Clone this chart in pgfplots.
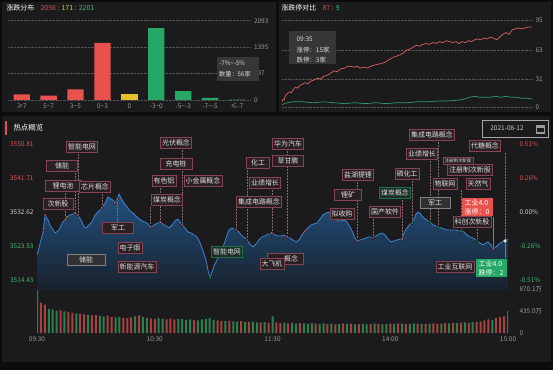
\documentclass[border=0pt]{standalone}
\usepackage{pgfplots}
\pgfplotsset{compat=1.18}
\usepackage{pgfplotstable}
\usepackage{fontspec}
\setmainfont{Noto Sans CJK SC}

\definecolor{bgblack}{HTML}{0C0C0C}
\definecolor{panel}{HTML}{1B1B1D}
\definecolor{tickgray}{HTML}{9A9A9A}
\definecolor{gridgray}{HTML}{555555}
\definecolor{barred}{HTML}{E8514E}
\definecolor{baryellow}{HTML}{E5C02B}
\definecolor{bargreen}{HTML}{25A766}
\definecolor{lred}{HTML}{D9625C}
\definecolor{lgreen}{HTML}{2E9C72}
\definecolor{tred}{HTML}{E0504D}
\definecolor{tgreen}{HTML}{3DBA6E}
\definecolor{tyellow}{HTML}{E6C23A}
\definecolor{twhite}{HTML}{D0D0D0}
\definecolor{lineblue}{HTML}{3E82D4}
\definecolor{areatop}{HTML}{22507E}
\definecolor{areabot}{HTML}{18212C}
\definecolor{vred}{HTML}{A9423F}
\definecolor{vgreen}{HTML}{2F7F4E}
\definecolor{lfill}{HTML}{2A2023}
\definecolor{lborder}{HTML}{874350}
\definecolor{ltext}{HTML}{DDDDDD}
\definecolor{dotpink}{HTML}{E07D93}
\definecolor{tipbg}{HTML}{38383A}
\definecolor{conn}{HTML}{8A6A72}

\pgfplotstableread{
t p
0 3521.18
1.0 3523.05
2.0 3525.19
3.1 3527.34
4.1 3531.89
5.6 3530.55
6.6 3529.21
8.2 3527.87
9.2 3527.07
10.7 3527.60
11.7 3528.41
13.2 3530.01
14.3 3530.55
15.3 3531.35
16.8 3531.89
18.3 3532.15
19.4 3532.42
20.9 3531.89
22.4 3530.55
24.0 3528.67
25.0 3528.41
26.5 3529.21
28.0 3530.01
29.6 3531.89
31.1 3532.69
33.1 3533.76
34.7 3535.10
36.2 3536.70
37.7 3536.17
38.7 3535.90
39.7 3535.10
40.8 3536.17
41.8 3537.51
42.8 3536.44
44.3 3535.10
45.9 3534.03
47.4 3532.96
48.9 3532.42
50.4 3531.62
52.0 3530.82
53.5 3530.28
55.0 3530.01
56.6 3529.48
57.6 3528.67
59.1 3528.94
60.6 3529.48
62.7 3530.01
64.2 3529.48
65.7 3528.94
67.3 3528.41
68.8 3529.21
70.3 3530.28
71.8 3530.82
72.9 3530.01
73.9 3529.21
75.4 3528.41
76.9 3527.34
78.5 3527.07
80.0 3526.53
81.5 3526.00
83.1 3524.39
84.6 3522.25
86.1 3519.84
87.1 3517.16
88.2 3515.02
89.2 3516.63
90.2 3518.24
91.7 3519.84
93.2 3521.98
94.8 3523.32
96.3 3525.73
97.8 3527.87
99.4 3528.41
100.4 3528.14
101.4 3527.87
102.9 3527.34
104.5 3526.27
106.0 3525.73
107.0 3525.19
108.5 3524.12
110.1 3523.32
111.6 3524.12
113.1 3525.19
114.6 3526.00
116.2 3526.27
117.7 3526.80
118.7 3526.80
119.7 3527.07
121.3 3526.53
122.8 3526.27
124.3 3526.27
125.9 3526.53
127.4 3526.00
128.9 3525.73
130.4 3525.19
132.0 3524.66
133.5 3525.19
135.0 3526.53
136.6 3527.60
138.1 3528.41
139.6 3529.21
141.1 3529.48
142.7 3529.74
144.2 3530.82
145.7 3531.89
147.3 3532.42
148.8 3532.69
150.3 3531.89
151.8 3531.08
153.4 3530.28
154.9 3530.28
156.4 3530.55
158.0 3530.01
159.5 3528.67
161.0 3527.07
162.0 3525.73
163.1 3524.93
164.6 3525.19
166.1 3525.46
167.6 3525.73
169.2 3526.00
170.2 3526.00
171.2 3525.73
172.7 3526.27
174.3 3526.80
175.8 3527.07
177.3 3526.53
178.9 3525.46
180.4 3524.66
181.9 3524.93
183.4 3525.19
185.0 3525.46
186.0 3525.46
187.0 3527.07
188.5 3528.41
190.1 3529.48
191.1 3529.74
192.1 3530.82
193.1 3532.15
194.1 3532.69
195.2 3532.42
196.2 3531.62
197.7 3530.82
199.2 3530.28
200.3 3530.01
201.8 3529.21
203.3 3528.94
204.3 3528.67
205.9 3528.41
207.4 3528.14
208.9 3527.87
210.4 3527.87
212.0 3527.87
213.5 3527.87
215.0 3527.60
216.0 3527.60
217.6 3527.34
219.1 3526.53
220.6 3526.00
222.2 3525.73
224.2 3524.93
225.7 3524.39
227.3 3523.86
228.8 3524.39
229.8 3524.66
231.3 3523.86
232.4 3522.79
233.9 3523.32
235.4 3524.12
236.9 3524.66
238.5 3524.93
240.0 3525.46
}\pricedata

\pgfplotstableread{
t v
2 600
4 560
12 450
16 420
18 400
22 380
24 370
28 350
30 355
36 345
38 320
44 300
46 295
48 310
52 350
58 290
60 280
66 270
68 290
70 265
80 255
92 250
94 240
98 245
104 235
108 215
114 205
118 200
122 210
124 195
128 190
134 195
142 185
148 175
152 170
156 190
160 185
164 175
170 175
174 180
180 185
184 190
188 175
194 185
198 175
202 190
204 180
208 195
212 200
216 205
220 200
224 220
226 230
228 250
230 270
234 300
236 320
238 330
}\volred

\pgfplotstableread{
t v
0 860
6 470
8 460
10 440
14 430
20 390
26 360
32 340
34 330
40 310
42 320
50 330
54 320
56 300
62 300
64 285
72 280
74 275
76 260
78 270
82 250
84 270
86 280
88 300
90 260
96 235
100 230
102 225
106 220
110 225
112 210
116 215
120 330
126 205
130 200
132 185
136 190
138 180
140 195
144 180
146 190
150 185
154 180
158 175
162 170
166 180
168 170
172 185
176 170
178 175
182 180
186 185
190 180
192 190
196 180
200 185
206 185
210 190
214 195
218 210
222 215
232 260
240 440
}\volgreen

\pgfplotstableread{
t n
0 6
1 9
2 8
3 12
5 15
7 17
9 16
11 20
13 22
15 21
17 24
19 25
22 27
25 26
28 29
31 30
34 32
37 31
40 34
43 35
46 37
50 40
53 39
56 42
60 43
63 45
66 45
69 44
72 45
75 43
78 44
82 43
85 45
88 46
91 47
95 48
98 49
101 51
104 53
107 55
110 56
114 58
117 60
120 63
123 64
126 66
129 68
132 67
135 69
138 70
141 69
145 71
148 70
151 72
154 71
158 73
161 72
164 71
167 72
170 70
173 72
176 71
179 73
182 72
185 74
188 75
191 74
194 76
197 75
200 77
203 76
206 74
209 77
212 80
215 82
218 80
221 85
224 86
227 87
230 86
233 87
236 88
240 88
}\uptable

\pgfplotstableread{
t n
0 3
5 5
10 6
20 6
30 5
40 6
50 5
60 4
70 5
80 4
90 5
100 4
110 5
120 5
130 6
140 6
150 7
160 7
170 8
175 9
180 11
185 12
190 11
200 11
205 12
210 11
215 12
220 11
225 11
230 10
235 10
240 9
}\downtable

\pgfplotsset{
  myax/.style={scale only axis, anchor=south west,
    axis line style={draw=none}, major tick length=0pt,
    tick label style={font=\fontsize{6.5}{7}\selectfont, text=tickgray},
    /pgf/number format/assume math mode=true},
}
\tikzset{
  lbl/.style={draw=lborder, fill=lfill, text=ltext, inner sep=1.6bp, line width=0.6bp,
    font=\fontsize{7}{7}\selectfont, minimum height=11bp},
  lblg/.style={lbl, draw=bargreen!70!black, fill=bargreen!12!panel},
  lblw/.style={lbl, draw=gray, fill=gray!22!panel},
  redbox/.style={fill=barred, text=white, inner sep=1.8bp, align=left,
    font=\fontsize{7}{9}\selectfont, minimum width=31bp},
  greenbox/.style={fill=bargreen, text=white, inner sep=1.8bp, align=left,
    font=\fontsize{7}{9}\selectfont, minimum width=31bp},
}
\newcommand{\conn}[3]{\addplot[conn, densely dotted, line width=0.5pt] coordinates {(#1,#2) (#1,#3)};}

\begin{document}
\begin{tikzpicture}[x=1bp, y=1bp, font=\fontsize{7}{8}\selectfont]
\useasboundingbox (0,0) rectangle (553,370);
\fill[bgblack] (0,0) rectangle (553,370);
\fill[panel] (2,258) rectangle (276,368);
\fill[panel] (279,258) rectangle (551,368);
\fill[panel] (2,8) rectangle (551,254);

% ---------- top-left: distribution ----------
\begin{axis}[myax, at={(8.25bp,270bp)}, width=242.25bp, height=79.3bp,
  xmin=-0.5, xmax=8.5, ymin=0, ymax=2093,
  ytick={0,697.67,1395.33,2093}, yticklabels={0,697,1395,2093},
  yticklabel pos=right, ymajorgrids, grid style={densely dotted, gridgray, line width=0.5pt},
  xtick={0,...,8},
  xticklabels={≥7,5\textasciitilde7,3\textasciitilde5,0\textasciitilde3,0,-3\textasciitilde0,-5\textasciitilde-3,-7\textasciitilde-5,≤-7}]
\addplot[ybar, bar width=16.3bp, bar shift=0pt, fill=barred, draw=none] coordinates {(0,150) (1,115) (2,283) (3,1508)};
\addplot[ybar, bar width=16.3bp, bar shift=0pt, fill=baryellow, draw=none] coordinates {(4,171)};
\addplot[ybar, bar width=16.3bp, bar shift=0pt, fill=bargreen, draw=none] coordinates {(5,1900) (6,235) (7,56) (8,10)};
\end{axis}
\node[anchor=west, text=white] at (3,362) {涨跌分布};
\node[anchor=west, font=\fontsize{7}{8}\selectfont] at (37,362) {\textcolor{tred}{2056} \textcolor{tyellow}{: 171 :} \textcolor{tgreen}{2201}};
\fill[tipbg, opacity=0.95] (217,289) rectangle (259,313);
\node[anchor=west, text=ltext, font=\fontsize{6.2}{7}\selectfont, inner sep=1bp] at (218,307) {-7\%\textasciitilde-5\%};
\node[anchor=west, text=ltext, font=\fontsize{6.2}{7}\selectfont, inner sep=1bp] at (218,296) {数量：56家};

% ---------- top-right: limit up/down ----------
\begin{axis}[myax, at={(282bp,262.7bp)}, width=250bp, height=86.6bp,
  xmin=0, xmax=240, ymin=0, ymax=95, xtick=\empty,
  ytick={0,31,63,95}, yticklabel pos=right,
  ymajorgrids, grid style={densely dotted, gridgray, line width=0.5pt}]
\addplot[lred, line width=0.7pt] table {\uptable};
\addplot[lgreen, line width=0.7pt] table {\downtable};
\end{axis}
\node[anchor=west, text=white] at (278,362) {涨跌停对比};
\node[anchor=west] at (319,362) {\textcolor{tred}{87} \textcolor{tyellow}{:} \textcolor{tgreen}{9}};
\fill[tipbg, opacity=0.95] (289,306) rectangle (336,339);
\node[anchor=west, text=ltext, font=\fontsize{6.5}{7}\selectfont] at (293,331) {09:35};
\node[anchor=west, text=ltext, font=\fontsize{6.5}{7}\selectfont] at (293,320) {涨停：15家};
\node[anchor=west, text=ltext, font=\fontsize{6.5}{7}\selectfont] at (293,310) {跌停：3家};

% ---------- bottom: hot spots ----------
\fill[barred] (5,235) rectangle (7,249);
\node[anchor=west, text=white, font=\fontsize{7.5}{8}\selectfont] at (10,242) {热点概览};
\draw[gray!70, fill=panel, line width=0.5pt] (482,233) rectangle (548,250);
\node[text=twhite, font=\fontsize{6.5}{7}\selectfont] at (507,241.5) {2021-08-12};
\fill[tickgray] (536,236.5) rectangle (545,245.5);
\fill[panel] (537.2,237.6) rectangle (543.8,242.5);

% volume
\begin{axis}[myax, at={(37bp,37bp)}, width=471bp, height=44bp,
  xmin=0, xmax=240, ymin=0, ymax=870.1,
  xtick={0,60,120,180,240}, xticklabels={09:30,10:30,11:30,14:00,15:00},
  ytick={0,435,870.1}, yticklabels={0,435.0万,870.1万},
  yticklabel pos=right, yticklabel style={anchor=west, xshift=8bp}]
\addplot[ybar, bar width=2bp, bar shift=0pt, fill=vred, draw=none] table {\volred};
\addplot[ybar, bar width=2bp, bar shift=0pt, fill=vgreen, draw=none] table {\volgreen};
\end{axis}

% price
\begin{axis}[myax, at={(37bp,80bp)}, width=471bp, height=170bp,
  xmin=0, xmax=240, ymin=3511.81, ymax=3557.31, xtick=\empty,
  ytick={3514.43,3523.53,3532.62,3541.71,3550.81},
  yticklabels={\textcolor{tgreen}{3514.43},\textcolor{tgreen}{3523.53},\textcolor{twhite}{3532.62},\textcolor{tred}{3541.71},\textcolor{tred}{3550.81}}]
\addplot[draw=none, top color=areatop, bottom color=areabot] table {\pricedata} |- (axis cs:0,3511.81) -- cycle;
\conn{14.3}{3537.78}{3530.55}
\conn{19.4}{3543.13}{3532.42}
\conn{20.9}{3548.21}{3531.89}
\conn{33.1}{3537.51}{3533.76}
\conn{40.8}{3536.17}{3530.01}
\conn{57.6}{3534.03}{3528.67}
\conn{62.7}{3539.11}{3530.01}
\conn{73.9}{3549.29}{3529.21}
\conn{101.4}{3533.49}{3527.87}
\conn{107.0}{3543.93}{3525.19}
\conn{119.7}{3538.58}{3527.07}
\conn{127.4}{3549.02}{3526.00}
\conn{163.1}{3540.72}{3524.93}
\conn{171.2}{3530.82}{3525.73}
\conn{186.0}{3535.90}{3525.46}
\conn{191.1}{3540.99}{3529.74}
\conn{200.3}{3546.34}{3530.01}
\conn{204.3}{3551.42}{3528.67}
\conn{216.0}{3538.58}{3527.60}
\conn{224.2}{3528.14}{3524.93}
\conn{238.5}{3548.48}{3524.93}
\addplot[barred, line width=0.7pt] coordinates {(232.4,3531.35) (232.4,3522.79)};
\addplot[bargreen, line width=0.7pt] coordinates {(238.5,3524.93) (238.5,3520.38)};
\addplot[lineblue, line width=0.8pt] table {\pricedata};
\addplot[only marks, mark=*, mark size=1.5bp, mark options={fill=dotpink, draw=none}] coordinates {(3.1,3527.34) (4.1,3531.89) (14.3,3530.55) (19.4,3532.42) (20.9,3531.89) (33.1,3533.76) (39.7,3535.10) (40.8,3536.17) (57.6,3528.67) (62.7,3530.01) (73.9,3529.21) (101.4,3527.87) (107.0,3525.19) (119.7,3527.07) (127.4,3526.00) (136.6,3527.60) (163.1,3524.93) (171.2,3525.73) (186.0,3525.46) (232.4,3522.79)};
\addplot[only marks, mark=*, mark size=1.5bp, mark options={fill=baryellow, draw=none}] coordinates {(15.3,3531.35)};
\addplot[only marks, mark=*, mark size=1.5bp, mark options={fill=bargreen, draw=none}] coordinates {(88.2,3515.02) (191.1,3529.74) (200.3,3530.01) (204.3,3528.67) (216.0,3527.60) (224.2,3524.93)};
\addplot[only marks, mark=*, mark size=1.8bp, mark options={fill=white, draw=gray, line width=0.6pt}] coordinates {(238.5,3524.93)};
\end{axis}

% right-side labels
\begin{scope}[font=\fontsize{6.5}{7}\selectfont]
\node[anchor=west, text=tred] at (516,225.7) {0.51\%};
\node[anchor=west, text=tred] at (516,192) {0.26\%};
\node[anchor=west, text=twhite] at (516,158) {0.00\%};
\node[anchor=west, text=tgreen] at (516,124) {-0.26\%};
\node[anchor=west, text=tgreen] at (516,90) {-0.51\%};
\end{scope}

% hot-spot labels
\node[lbl] at (82,223) {智能电网};
\node[lbl, minimum width=31bp] at (62,204) {储能};
\node[lbl, minimum width=36bp] at (63,184) {锂电池};
\node[lbl] at (95,183) {芯片概念};
\node[lbl, minimum width=30bp] at (58,166) {次新股};
\node[lbl, minimum width=31bp] at (118,142) {军工};
\node[lbl] at (176,227) {光伏概念};
\node[lbl, minimum width=32bp] at (176,206) {充电桩};
\node[lbl] at (164,189) {有色铝};
\node[lbl] at (203,189) {小金属概念};
\node[lbl] at (167,170) {煤炭概念};
\node[lbl] at (288,226) {华为汽车};
\node[lbl, minimum width=23bp] at (258,207) {化工};
\node[lbl, minimum width=31bp] at (288,209) {草甘膦};
\node[lbl] at (265,187) {业绩增长};
\node[lbl] at (259,168) {集成电路概念};
\node[lbl] at (130,122) {电子烟};
\node[lblw, minimum width=38bp] at (86,110) {储能};
\node[lbl] at (137,103) {新能源汽车};
\node[lblg] at (227,118) {智能电网};
\node[lbl, minimum width=36bp] at (285,111) {\hspace{12bp}概念};
\node[lbl] at (272,106) {大飞机};
\node[lbl] at (358,195) {盐湖提锂};
\node[lbl, minimum width=27bp] at (348,175) {锂矿};
\node[lbl] at (342,156) {拟收购};
\node[lbl] at (385,158) {国产软件};
\node[lblg] at (395,177) {煤炭概念};
\node[lbl] at (407,196) {磷化工};
\node[lbl] at (422,216) {业绩增长};
\node[lbl] at (432,235) {集成电路概念};
\node[lbl, font=\fontsize{4.5}{5}\selectfont, minimum height=7bp] at (458,209) {注册制次新股};
\node[lbl] at (470,200) {注册制次新股};
\node[lbl] at (445,186) {物联网};
\node[lbl] at (478,186) {天然气};
\node[lblw, minimum width=30bp] at (435,167) {军工};
\node[lbl] at (485,224) {代糖概念};
\node[redbox] at (477,163) {工业4.0\\涨停：0};
\node[lbl] at (472,148) {科创次新股};
\node[lbl] at (455,103) {工业互联网};
\node[greenbox] at (491,102) {工业4.0\\跌停：2};
\end{tikzpicture}
\end{document}
